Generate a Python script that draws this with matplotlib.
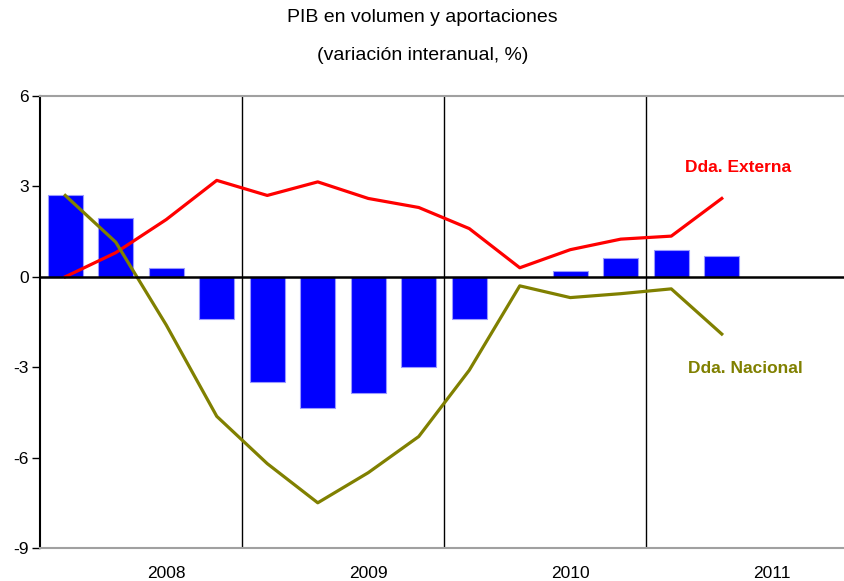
import matplotlib
matplotlib.use("Agg")
import matplotlib.pyplot as plt
import numpy as np

plt.rcParams['font.family'] = ['Liberation Sans', 'DejaVu Sans']

quarters = ["2008T1", "2008T2", "2008T3", "2008T4",
            "2009T1", "2009T2", "2009T3", "2009T4",
            "2010T1", "2010T2", "2010T3", "2010T4",
            "2011T1", "2011T2"]
pib = [2.7, 1.95, 0.3, -1.4, -3.5, -4.37, -3.87, -3.0, -1.4, 0.0, 0.2, 0.63, 0.9, 0.7]
dda_externa = [0.0, 0.8, 1.9, 3.2, 2.7, 3.15, 2.6, 2.3, 1.6, 0.3, 0.9, 1.25, 1.35, 2.6]
dda_nacional = [2.7, 1.15, -1.6, -4.63, -6.2, -7.5, -6.5, -5.3, -3.1, -0.3, -0.69, -0.56, -0.4, -1.9]
years = ["2008", "2009", "2010", "2011"]
yticks = [6, 3, 0, -3, -6, -9]

fig = plt.figure(figsize=(8.45, 5.81), dpi=100)
ax = fig.add_axes([40/845, 1-548/581, 1-40/845, (548-96)/581])

x = np.arange(len(quarters))
ax.bar(x, pib, width=0.69, color='#0000FF', edgecolor='#9999FF', linewidth=0.8, zorder=2)
ax.plot(x, dda_externa, color='#FF0000', linewidth=2.3, zorder=3)
ax.plot(x, dda_nacional, color='#808000', linewidth=2.3, zorder=3)

ax.axhline(0, color='black', linewidth=1.8, zorder=4)
for v in [3.5, 7.5, 11.5]:
    ax.axvline(v, color='black', linewidth=1.0, zorder=1)

ax.set_xlim(-0.5, 15.44)
ax.set_ylim(-9, 6)
ax.set_yticks(yticks)
ax.set_yticklabels([str(t) for t in yticks], fontsize=12.5)
ax.tick_params(axis='y', length=6, width=1, direction='out', pad=2)

ax.set_xticks([2, 6, 10, 14])
ax.set_xticklabels(years, fontsize=12.5)
ax.tick_params(axis='x', length=0, pad=13)

ax.spines['left'].set_color('black')
ax.spines['left'].set_linewidth(1.5)
ax.spines['right'].set_visible(False)
ax.spines['top'].set_color('#A0A0A0')
ax.spines['top'].set_linewidth(1.5)
ax.spines['bottom'].set_color('#A0A0A0')
ax.spines['bottom'].set_linewidth(1.5)

ax.text(12.27, 3.62, "Dda. Externa", color='#FF0000', fontsize=12.5,
        fontweight='bold', va='center')
ax.text(12.33, -3.03, "Dda. Nacional", color='#808000', fontsize=12.5,
        fontweight='bold', va='center')

fig.text(0.5, 1-18/581, "PIB en volumen y aportaciones", ha='center', va='center', fontsize=14)
fig.text(0.5, 1-55/581, "(variación interanual, %)", ha='center', va='center', fontsize=14)

fig.savefig("out.png", dpi=100)
